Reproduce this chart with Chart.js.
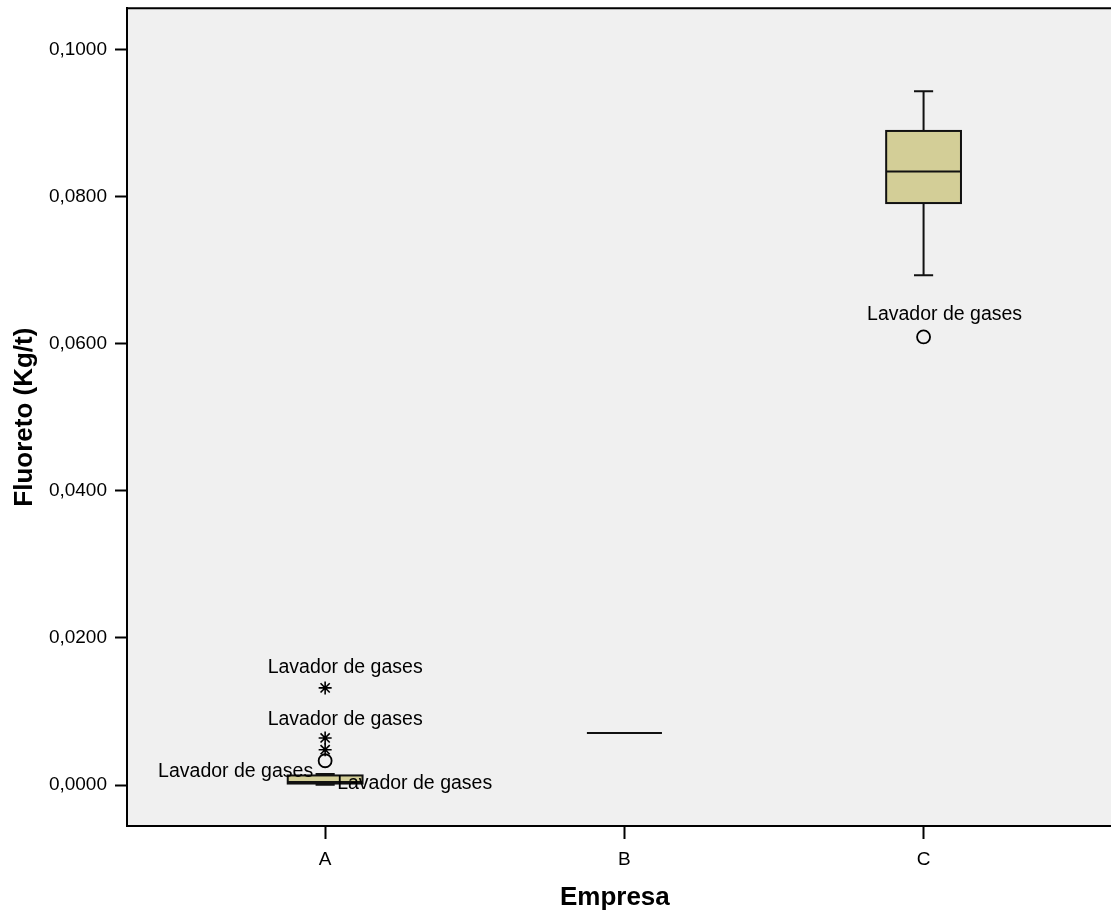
<!DOCTYPE html>
<html>
<head>
<meta charset="utf-8">
<script src="https://cdn.jsdelivr.net/npm/chart.js@4"></script>
<style>
  html, body { margin: 0; padding: 0; background: #fff; overflow: hidden; }
  #wrap { width: 1111px; height: 913px; }
  canvas { display: block; }
</style>
</head>
<body>
<div id="wrap"><canvas id="chart" width="1111" height="913"></canvas></div>
<script>
// ── DATA ────────────────────────────────────────────────────────────
const categories = ['A', 'B', 'C'];
const boxMin    = [0.00005, 0.00707, 0.0693];
const boxQ1     = [0.0002,  0.00707, 0.0791];
const boxMedian = [0.0004,  0.00707, 0.0834];
const boxQ3     = [0.0013,  0.00707, 0.0889];
const boxMax    = [0.0015,  0.00707, 0.0943];
const outlierCircles = [[0.0033], [], [0.0609]];
const outlierStars   = [[0.0132, 0.0064, 0.0048], [], []];
const yTicks = [0, 0.02, 0.04, 0.06, 0.08, 0.1];

// case labels: category index, value the label belongs to, text
const caseLabels = [
  { cat: 0, value: 0.0132, text: 'Lavador de gases' },
  { cat: 0, value: 0.0064, text: 'Lavador de gases' },
  { cat: 0, value: 0.0033, text: 'Lavador de gases' },
  { cat: 0, value: 0.00005, text: 'Lavador de gases' },
  { cat: 2, value: 0.0609, text: 'Lavador de gases' }
];
// where each label sits relative to its point (px)
const labelPlacement = [
  { dx: 20, dy: -20, align: 'center' },
  { dx: 20, dy: -18, align: 'center' },
  { dx: -12, dy: 11, align: 'right' },
  { dx: 12, dy: -1, align: 'left' },
  { dx: 21, dy: -22, align: 'center' }
];

const FONT = "'Liberation Sans', Arial, sans-serif";
const BOX_FILL = 'rgb(211,206,151)';
const BOX_HALF = 0.125;
const CAP_HALF = 0.032;

// ── PLUGINS ─────────────────────────────────────────────────────────
// plot background runs on to the canvas edge (the right side is cut off)
const plotFrame = {
  id: 'plotFrame',
  beforeDraw(chart) {
    const { ctx, chartArea: a } = chart;
    ctx.save();
    ctx.fillStyle = '#f0f0f0';
    ctx.fillRect(a.left, a.top, chart.width - a.left, a.bottom - a.top);
    ctx.restore();
  },
  afterDraw(chart) {
    const { ctx, chartArea: a } = chart;
    ctx.save();
    ctx.strokeStyle = '#000';
    ctx.lineWidth = 2;
    ctx.beginPath();
    ctx.moveTo(a.left, a.top); ctx.lineTo(chart.width, a.top);
    ctx.moveTo(a.left - 1, a.bottom); ctx.lineTo(chart.width, a.bottom);
    ctx.stroke();
    ctx.restore();
  }
};

const boxes = {
  id: 'boxes',
  beforeDatasetsDraw(chart) {
    const { ctx } = chart;
    const xs = chart.scales.x, ys = chart.scales.y;
    ctx.save();
    ctx.strokeStyle = '#111';
    ctx.lineWidth = 2;
    categories.forEach((c, i) => {
      const cx = xs.getPixelForValue(i + 1);
      const bl = xs.getPixelForValue(i + 1 - BOX_HALF);
      const br = xs.getPixelForValue(i + 1 + BOX_HALF);
      const cl = xs.getPixelForValue(i + 1 - CAP_HALF);
      const cr = xs.getPixelForValue(i + 1 + CAP_HALF);
      const yMin = ys.getPixelForValue(boxMin[i]);
      const yQ1 = ys.getPixelForValue(boxQ1[i]);
      const yMed = ys.getPixelForValue(boxMedian[i]);
      const yQ3 = ys.getPixelForValue(boxQ3[i]);
      const yMax = ys.getPixelForValue(boxMax[i]);
      // whiskers
      ctx.beginPath();
      ctx.moveTo(cx, yQ3); ctx.lineTo(cx, yMax);
      ctx.moveTo(cl, yMax); ctx.lineTo(cr, yMax);
      ctx.moveTo(cx, yQ1); ctx.lineTo(cx, yMin);
      ctx.moveTo(cl, yMin); ctx.lineTo(cr, yMin);
      ctx.stroke();
      // box
      ctx.fillStyle = BOX_FILL;
      ctx.fillRect(bl, yQ3, br - bl, yQ1 - yQ3);
      ctx.strokeRect(bl, yQ3, br - bl, yQ1 - yQ3);
      // median
      ctx.beginPath();
      ctx.moveTo(bl, yMed); ctx.lineTo(br, yMed);
      ctx.stroke();
    });
    ctx.restore();
  }
};

const caseText = {
  id: 'caseText',
  afterDatasetsDraw(chart) {
    const { ctx } = chart;
    const xs = chart.scales.x, ys = chart.scales.y;
    ctx.save();
    ctx.fillStyle = '#000';
    ctx.font = '19.5px ' + FONT;
    ctx.textBaseline = 'middle';
    caseLabels.forEach((l, k) => {
      const p = labelPlacement[k];
      ctx.textAlign = p.align;
      ctx.fillText(l.text, xs.getPixelForValue(l.cat + 1) + p.dx, ys.getPixelForValue(l.value) + p.dy);
    });
    ctx.restore();
  }
};

// ── CHART ───────────────────────────────────────────────────────────
function toPoints(groups) {
  const pts = [];
  groups.forEach((vals, i) => vals.forEach(v => pts.push({ x: i + 1, y: v })));
  return pts;
}

const fmt = v => v.toFixed(4).replace('.', ',');

new Chart(document.getElementById('chart'), {
  type: 'scatter',
  data: {
    datasets: [
      {
        label: 'circles',
        data: toPoints(outlierCircles),
        pointStyle: 'circle',
        pointRadius: 6.5,
        borderColor: '#000',
        borderWidth: 1.8,
        backgroundColor: 'rgba(0,0,0,0)'
      },
      {
        label: 'stars',
        data: toPoints(outlierStars),
        pointStyle: 'star',
        pointRadius: 6.5,
        borderColor: '#000',
        borderWidth: 1.6,
        backgroundColor: 'rgba(0,0,0,0)'
      }
    ]
  },
  options: {
    responsive: false,
    animation: false,
    layout: { padding: { top: 8, right: 0, left: 0, bottom: 0 } },
    plugins: {
      legend: { display: false },
      tooltip: { enabled: false }
    },
    scales: {
      x: {
        type: 'linear',
        min: 1 - 198 / 299,
        max: 3 + 179 / 299,
        afterBuildTicks: s => { s.ticks = categories.map((c, i) => ({ value: i + 1 })); },
        afterFit: s => { s.height = 87; s.paddingLeft = 0; s.paddingRight = 0; },
        grid: { drawOnChartArea: false, drawTicks: true, tickLength: 13, tickColor: '#000', tickWidth: 2 },
        border: { display: false },
        ticks: {
          color: '#000',
          padding: 9,
          font: { family: FONT, size: 19 },
          callback: v => categories[v - 1]
        },
        title: {
          display: true,
          text: 'Empresa',
          color: '#000',
          font: { family: FONT, size: 26, weight: 'bold' },
          padding: { top: 0, bottom: 0 }
        }
      },
      y: {
        min: -(826 - 785) / 7360,
        max: (785 - 8) / 7360,
        afterBuildTicks: s => { s.ticks = yTicks.map(v => ({ value: v })); },
        afterFit: s => { s.width = 127; s.paddingTop = 0; s.paddingBottom = 0; },
        grid: { drawOnChartArea: false, drawTicks: true, tickLength: 12, tickColor: '#000', tickWidth: 2 },
        border: { color: '#000', width: 2 },
        ticks: {
          color: '#000',
          padding: 8,
          font: { family: FONT, size: 19 },
          callback: v => fmt(v)
        },
        title: {
          display: true,
          text: 'Fluoreto (Kg/t)',
          color: '#000',
          font: { family: FONT, size: 26, weight: 'bold' },
          padding: { top: 9, bottom: 0 }
        }
      }
    }
  },
  plugins: [plotFrame, boxes, caseText]
});
</script>
</body>
</html>
